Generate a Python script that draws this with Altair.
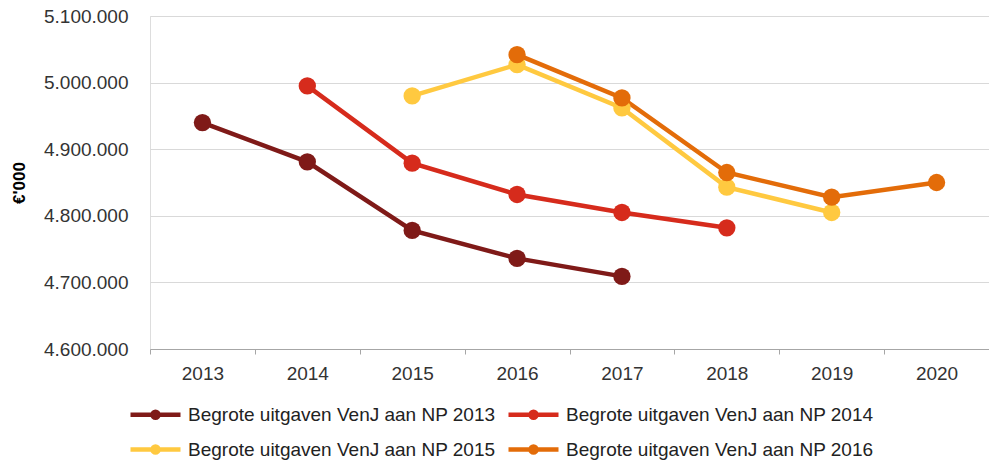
import altair as alt
import pandas as pd

years = ["2013", "2014", "2015", "2016", "2017", "2018", "2019", "2020"]
series_names = [
    "Begrote uitgaven VenJ aan NP 2013",
    "Begrote uitgaven VenJ aan NP 2014",
    "Begrote uitgaven VenJ aan NP 2015",
    "Begrote uitgaven VenJ aan NP 2016",
]
colors = ["#7F1A18", "#D62B1C", "#FFC940", "#E36C09"]

np2013_years = ["2013", "2014", "2015", "2016", "2017"]
np2013_vals = [4940000, 4881000, 4778000, 4736000, 4709000]
np2014_years = ["2014", "2015", "2016", "2017", "2018"]
np2014_vals = [4995000, 4879000, 4832000, 4805000, 4782000]
np2015_years = ["2015", "2016", "2017", "2018", "2019"]
np2015_vals = [4980000, 5027000, 4962000, 4843000, 4805000]
np2016_years = ["2016", "2017", "2018", "2019", "2020"]
np2016_vals = [5042000, 4977000, 4865000, 4828000, 4850000]

rows = []
for i, (ys, vs) in enumerate([(np2013_years, np2013_vals), (np2014_years, np2014_vals),
                              (np2015_years, np2015_vals), (np2016_years, np2016_vals)]):
    for y, v in zip(ys, vs):
        rows.append({"series": series_names[i], "year": y, "value": v, "order": i})
df = pd.DataFrame(rows)

FONT = "Liberation Sans"

x = alt.X("year:N", sort=years, scale=alt.Scale(domain=years, paddingInner=0, paddingOuter=0),
          axis=alt.Axis(title=None, labelAngle=0, tickBand="extent", tickSize=5, labelPadding=10,
                        domainColor="#A6A6A6", tickColor="#A6A6A6", labelFontSize=19,
                        labelColor="#333333", labelFont=FONT, grid=False))
y = alt.Y("value:Q", scale=alt.Scale(domain=[4600000, 5100000], nice=False, zero=False),
          axis=alt.Axis(title="€'000", values=[4600000, 4700000, 4800000, 4900000, 5000000, 5100000],
                        labelExpr="replace(format(datum.value, ','), /,/g, '.')",
                        ticks=False, domain=False, labelPadding=22, labelFontSize=19,
                        labelColor="#333333", labelFont=FONT, gridColor="#D9D9D9",
                        titleFont=FONT, titleFontSize=17, titleFontWeight="bold",
                        titleColor="#000000", titlePadding=15))
color_scale = alt.Scale(domain=series_names, range=colors)

# line with a (stroke-filled) dot in the middle; symbol box is 20px (10px per unit)
sym = ("M-1,0 L4,0 M1.2,0 A0.3,0.3 0 1,1 1.8,0 A0.3,0.3 0 1,1 1.2,0 Z")

legend = alt.Legend(title=None, orient="none", legendX=-22, legendY=386,
                    columns=2, direction="horizontal", symbolType=sym,
                    symbolSize=400, symbolStrokeWidth=4.5, labelFontSize=19,
                    labelFont=FONT, labelColor="#222222", labelLimit=0,
                    labelOffset=35, columnPadding=3, rowPadding=10)

lines = alt.Chart(df).mark_line(strokeWidth=4.5).encode(
    x=x, y=y,
    color=alt.Color("series:N", scale=color_scale, legend=legend),
    detail="series:N",
    order="order:Q",
)
points = alt.Chart(df).mark_circle(size=300, opacity=1).encode(
    x=x, y=y,
    color=alt.Color("series:N", scale=color_scale, legend=legend),
    order="order:Q",
)

chart = alt.layer(lines, points).properties(
    width=839, height=333,
    autosize=alt.AutoSizeParams(type="none"),
    padding={"left": 142, "top": 8, "right": 0, "bottom": 112},
).configure_view(stroke=None).configure(font=FONT)

chart.save("out.html", embed_options={"renderer": "svg", "actions": False})
